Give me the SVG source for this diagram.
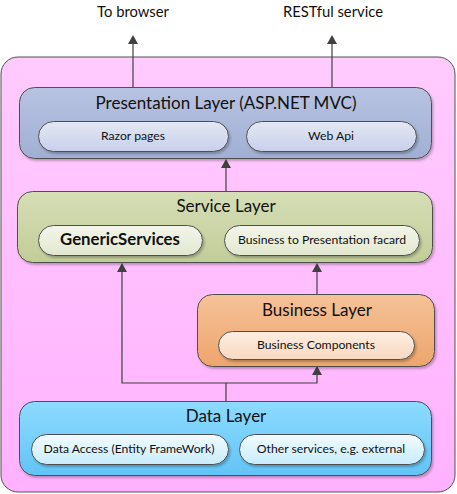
<svg xmlns="http://www.w3.org/2000/svg" width="457" height="494" viewBox="0 0 457 494">
<defs>
<linearGradient id="gOuter" x1="0" y1="0" x2="0" y2="1"><stop offset="0" stop-color="#ffcbfd"/><stop offset="1" stop-color="#ffb2ff"/></linearGradient>
<linearGradient id="gPres" x1="0" y1="0" x2="0" y2="1"><stop offset="0" stop-color="#b8c3e2"/><stop offset="1" stop-color="#a0afd3"/></linearGradient>
<linearGradient id="gServ" x1="0" y1="0" x2="0" y2="1"><stop offset="0" stop-color="#d6deb6"/><stop offset="1" stop-color="#c1cd98"/></linearGradient>
<linearGradient id="gBus" x1="0" y1="0" x2="0" y2="1"><stop offset="0" stop-color="#f5c298"/><stop offset="1" stop-color="#eea56c"/></linearGradient>
<linearGradient id="gData" x1="0" y1="0" x2="0" y2="1"><stop offset="0" stop-color="#8ddbff"/><stop offset="1" stop-color="#62c4f6"/></linearGradient>
<linearGradient id="pPres" x1="0" y1="0" x2="0" y2="1"><stop offset="0" stop-color="#e4e8f4"/><stop offset="1" stop-color="#c8d0ea"/></linearGradient>
<linearGradient id="pServ" x1="0" y1="0" x2="0" y2="1"><stop offset="0" stop-color="#f3f5ea"/><stop offset="1" stop-color="#e2e8cf"/></linearGradient>
<linearGradient id="pBus" x1="0" y1="0" x2="0" y2="1"><stop offset="0" stop-color="#fdeee2"/><stop offset="1" stop-color="#f9d8bf"/></linearGradient>
<linearGradient id="pData" x1="0" y1="0" x2="0" y2="1"><stop offset="0" stop-color="#f2fbff"/><stop offset="1" stop-color="#c8ecfd"/></linearGradient>
<filter id="sh" x="-5%" y="-10%" width="110%" height="130%"><feDropShadow dx="1.5" dy="2" stdDeviation="1.2" flood-color="#000" flood-opacity="0.25"/></filter>
<marker id="arr" markerWidth="10" markerHeight="10" refX="5" refY="5" orient="auto" markerUnits="userSpaceOnUse" viewBox="0 0 10 10"><path d="M0,9 L5,0 L10,9 Z" fill="#404040" transform="rotate(90 5 5)"/></marker>
</defs>
<style>
.box{stroke:#505050;stroke-width:1}
.pill{stroke:#505050;stroke-width:1}
.t{font-family:Lato,"Liberation Sans",sans-serif;fill:#111111;text-anchor:middle}
.title{font-size:17px}
.small{font-size:12.2px}
.top{font-size:14.8px}
.conn{stroke:#404040;stroke-width:1.2;fill:none}
</style>
<rect width="457" height="494" fill="#ffffff"/>
<g id="container">
<rect x="1" y="57" width="454" height="435" rx="17" fill="url(#gOuter)" class="box"/>
</g>
<g id="connectors">
<line x1="133" y1="87" x2="133" y2="40" class="conn" marker-end="url(#arr)"/>
<line x1="332" y1="87" x2="332" y2="40" class="conn" marker-end="url(#arr)"/>
<line x1="226" y1="191" x2="226" y2="164" class="conn" marker-end="url(#arr)"/>
<polyline points="226,401 226,383 122,383 122,268" class="conn" marker-end="url(#arr)"/>
<polyline points="226,383 317,383 317,371" class="conn" marker-end="url(#arr)"/>
<line x1="317" y1="294" x2="317" y2="268" class="conn" marker-end="url(#arr)"/>
</g>
<g id="label-browser"><text x="133" y="17" class="t top">To browser</text></g>
<g id="label-rest"><text x="333" y="17" class="t top">RESTful service</text></g>
<g id="presentation">
<rect x="19.5" y="87.5" width="412" height="71" rx="15" fill="url(#gPres)" class="box" filter="url(#sh)"/>
<text x="226" y="109" class="t title">Presentation Layer (ASP.NET MVC)</text>
<g id="razor"><rect x="38.5" y="121.5" width="190" height="30" rx="15" fill="url(#pPres)" class="pill" filter="url(#sh)"/><text x="133" y="140" class="t small">Razor pages</text></g>
<g id="webapi"><rect x="246.5" y="121.5" width="170" height="30" rx="15" fill="url(#pPres)" class="pill" filter="url(#sh)"/><text x="331" y="140" class="t small">Web Api</text></g>
</g>
<g id="service">
<rect x="17.5" y="191.5" width="415" height="71" rx="15" fill="url(#gServ)" class="box" filter="url(#sh)"/>
<text x="226" y="212" class="t title">Service Layer</text>
<g id="generic"><rect x="38.5" y="225.5" width="164" height="30" rx="15" fill="url(#pServ)" class="pill" filter="url(#sh)"/><text x="120" y="245" class="t" style="font-size:16.8px;font-weight:bold">GenericServices</text></g>
<g id="facard"><rect x="224.5" y="225.5" width="195" height="30" rx="15" fill="url(#pServ)" class="pill" filter="url(#sh)"/><text x="322" y="244" class="t small">Business to Presentation facard</text></g>
</g>
<g id="business">
<rect x="197.5" y="294.5" width="237" height="72" rx="15" fill="url(#gBus)" class="box" filter="url(#sh)"/>
<text x="317" y="316" class="t title">Business Layer</text>
<g id="components"><rect x="218.5" y="331.5" width="196" height="28" rx="14" fill="url(#pBus)" class="pill" filter="url(#sh)"/><text x="316" y="349" class="t small">Business Components</text></g>
</g>
<g id="data">
<rect x="19.5" y="401.5" width="412" height="74" rx="15" fill="url(#gData)" class="box" filter="url(#sh)"/>
<text x="226" y="422" class="t title">Data Layer</text>
<g id="dataaccess"><rect x="31.5" y="434.5" width="197" height="30" rx="15" fill="url(#pData)" class="pill" filter="url(#sh)"/><text x="129" y="453" class="t small">Data Access (Entity FrameWork)</text></g>
<g id="other"><rect x="239.5" y="434.5" width="185" height="30" rx="15" fill="url(#pData)" class="pill" filter="url(#sh)"/><text x="331" y="453" class="t small">Other services, e.g. external</text></g>
</g>
</svg>
